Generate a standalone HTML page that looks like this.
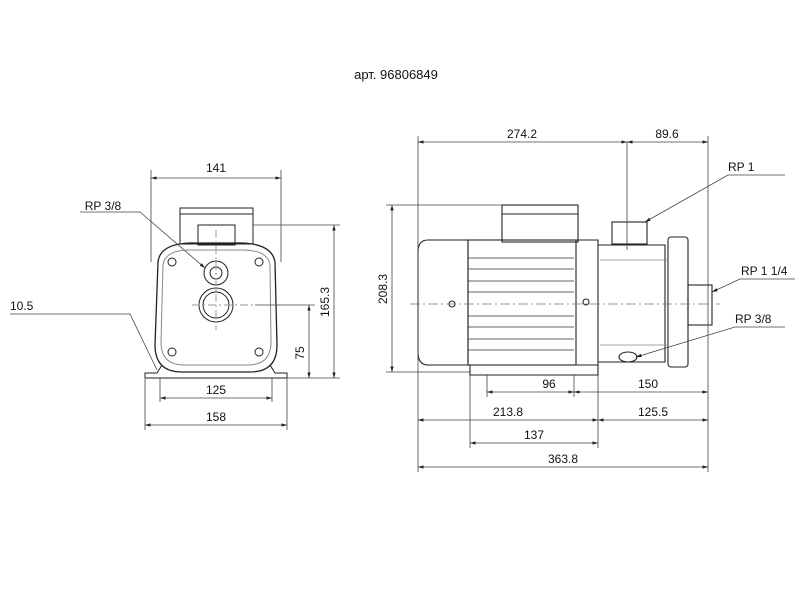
<!DOCTYPE html>
<html><head><meta charset="utf-8"><style>
html,body{margin:0;padding:0;background:#fff;width:800px;height:600px;overflow:hidden}
svg text{font-family:"Liberation Sans",sans-serif;font-size:12px;fill:#111}
</style></head><body>
<svg width="800" height="600" viewBox="0 0 800 600" xmlns="http://www.w3.org/2000/svg">
<defs>
<marker id="a" viewBox="0 0 10 10" refX="10" refY="5" markerWidth="7" markerHeight="7" orient="auto-start-reverse"><path d="M0,2 L10,5 L0,8z" fill="#222"/></marker>
</defs>
<text x="396" y="79" text-anchor="middle" style="font-size:13px">арт. 96806849</text>

<!-- LEFT VIEW -->
<g stroke="#222" fill="none" stroke-width="1">
<rect x="180" y="208" width="73" height="36" />
<line x1="180" y1="214" x2="253" y2="214"/>
<rect x="198" y="225" width="37" height="20"/>
<path d="M158,262 Q160,244 190,243 L242,243 Q272,244 275,262 L277,345 Q277,372 250,372 L182,372 Q155,372 155,345 Z" stroke-width="1.3"/>
<path d="M163,265 Q165,250 190,250 L242,250 Q268,250 270,265 L271,342 Q271,365 248,365 L184,365 Q161,365 161,342 Z" stroke="#888"/>
<circle cx="216" cy="273" r="12"/><circle cx="216" cy="273" r="6"/>
<circle cx="216" cy="305" r="17"/><circle cx="216" cy="305" r="13"/>
<circle cx="172" cy="262" r="4"/><circle cx="259" cy="262" r="4"/>
<circle cx="172" cy="352" r="4"/><circle cx="259" cy="352" r="4"/>
<path d="M145,378 L145,373 L157,373 L162,365 M287,378 L287,373 L275,373 L270,365 M145,378 L287,378"/>
<line x1="216" y1="230" x2="216" y2="330" stroke="#999" stroke-dasharray="8,3,2,3"/>
<line x1="192" y1="305" x2="255" y2="305" stroke="#999" stroke-dasharray="8,3,2,3"/>
</g>
<g stroke="#444" stroke-width="0.8" fill="none">
<line x1="151" y1="170" x2="151" y2="262"/><line x1="281" y1="170" x2="281" y2="262"/>
<line x1="151" y1="178" x2="281" y2="178" marker-start="url(#a)" marker-end="url(#a)"/>
<line x1="253" y1="225" x2="340" y2="225"/><line x1="287" y1="378" x2="340" y2="378"/>
<line x1="334" y1="225" x2="334" y2="378" marker-start="url(#a)" marker-end="url(#a)"/>
<line x1="255" y1="305" x2="315" y2="305"/>
<line x1="309" y1="305" x2="309" y2="378" marker-start="url(#a)" marker-end="url(#a)"/>
<line x1="160" y1="378" x2="160" y2="402"/><line x1="272" y1="378" x2="272" y2="402"/>
<line x1="160" y1="398" x2="272" y2="398" marker-start="url(#a)" marker-end="url(#a)"/>
<line x1="145" y1="378" x2="145" y2="430"/><line x1="287" y1="378" x2="287" y2="430"/>
<line x1="145" y1="425" x2="287" y2="425" marker-start="url(#a)" marker-end="url(#a)"/>
<path d="M80,212 L140,212 L205,268" marker-end="url(#a)"/>
<path d="M10,314 L130,314 L157,370"/>
</g>
<text x="216" y="172" text-anchor="middle">141</text>
<text x="103" y="210" text-anchor="middle">RP 3/8</text>
<text x="10" y="310">10.5</text>
<text x="216" y="394" text-anchor="middle">125</text>
<text x="216" y="421" text-anchor="middle">158</text>
<text transform="translate(329,302) rotate(-90)" text-anchor="middle">165.3</text>
<text transform="translate(304,353) rotate(-90)" text-anchor="middle">75</text>

<!-- RIGHT VIEW -->
<g stroke="#222" fill="none" stroke-width="1.1">
<path d="M468,240 L428,240 Q418,240 418,252 L418,352 Q418,365 428,365 L468,365 Z"/>
<rect x="468" y="240" width="108" height="125"/>
<rect x="502" y="205" width="76" height="37"/>
<line x1="502" y1="214" x2="578" y2="214"/>
<path d="M576,240 L598,240 L598,365 L576,365"/>
<path d="M598,245 L665,245 L665,362 L598,362" />
<rect x="668" y="237" width="20" height="130" rx="3"/>
<rect x="612" y="222" width="35" height="22"/>
<rect x="688" y="285" width="24" height="40"/>
<path d="M470,365 L470,375 L598,375 L598,365"/>
<ellipse cx="628" cy="357" rx="9" ry="5"/>
<circle cx="452" cy="304" r="3"/><circle cx="586" cy="302" r="3"/>
</g>
<g stroke="#333" stroke-width="0.8">
<line x1="468" y1="258" x2="574" y2="258"/><line x1="468" y1="269" x2="574" y2="269"/>
<line x1="468" y1="281" x2="574" y2="281"/><line x1="468" y1="292" x2="574" y2="292"/>
<line x1="468" y1="316" x2="574" y2="316"/><line x1="468" y1="327" x2="574" y2="327"/>
<line x1="468" y1="339" x2="574" y2="339"/><line x1="468" y1="350" x2="574" y2="350"/>
<line x1="600" y1="260" x2="668" y2="260" stroke="#888"/><line x1="600" y1="345" x2="668" y2="345" stroke="#888"/>
</g>
<line x1="410" y1="304" x2="720" y2="304" stroke="#777" stroke-dasharray="10,3,2,3" stroke-width="0.8"/>
<line x1="627" y1="142" x2="627" y2="250" stroke="#444" stroke-width="0.8"/>
<g stroke="#444" stroke-width="0.8" fill="none">
<line x1="418" y1="136" x2="418" y2="472"/><line x1="708" y1="136" x2="708" y2="472"/>
<line x1="418" y1="142" x2="627" y2="142" marker-start="url(#a)" marker-end="url(#a)"/>
<line x1="627" y1="142" x2="708" y2="142" marker-start="url(#a)" marker-end="url(#a)"/>
<line x1="386" y1="205" x2="502" y2="205"/><line x1="386" y1="372" x2="470" y2="372"/>
<line x1="392" y1="205" x2="392" y2="372" marker-start="url(#a)" marker-end="url(#a)"/>
<line x1="487" y1="375" x2="487" y2="397"/><line x1="574" y1="375" x2="574" y2="397"/>
<line x1="487" y1="392" x2="574" y2="392" marker-start="url(#a)" marker-end="url(#a)"/>
<line x1="574" y1="392" x2="708" y2="392" marker-start="url(#a)" marker-end="url(#a)"/>
<line x1="598" y1="375" x2="598" y2="448"/><line x1="470" y1="375" x2="470" y2="448"/>
<line x1="418" y1="420" x2="598" y2="420" marker-start="url(#a)" marker-end="url(#a)"/>
<line x1="598" y1="420" x2="708" y2="420" marker-start="url(#a)" marker-end="url(#a)"/>
<line x1="470" y1="443" x2="598" y2="443" marker-start="url(#a)" marker-end="url(#a)"/>
<line x1="418" y1="467" x2="708" y2="467" marker-start="url(#a)" marker-end="url(#a)"/>
<path d="M785,175 L728,175 L645,222" marker-end="url(#a)"/>
<path d="M795,279 L740,279 L712,292" marker-end="url(#a)"/>
<path d="M785,327 L735,327 L636,357" marker-end="url(#a)"/>
</g>
<text x="522" y="138" text-anchor="middle">274.2</text>
<text x="667" y="138" text-anchor="middle">89.6</text>
<text x="728" y="171">RP 1</text>
<text x="741" y="275">RP 1 1/4</text>
<text x="735" y="323">RP 3/8</text>
<text transform="translate(387,289) rotate(-90)" text-anchor="middle">208.3</text>
<text x="549" y="388" text-anchor="middle">96</text>
<text x="648" y="388" text-anchor="middle">150</text>
<text x="508" y="416" text-anchor="middle">213.8</text>
<text x="653" y="416" text-anchor="middle">125.5</text>
<text x="534" y="439" text-anchor="middle">137</text>
<text x="563" y="463" text-anchor="middle">363.8</text>
</svg>
</body></html>
